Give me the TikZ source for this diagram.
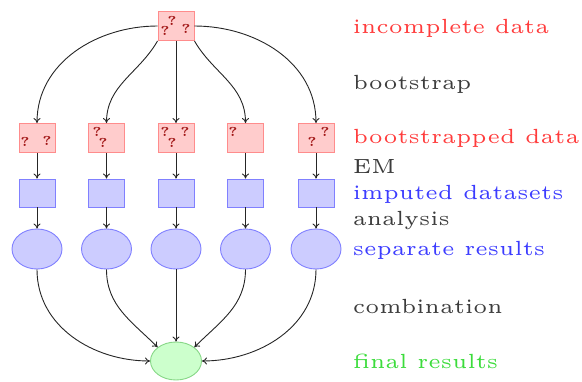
\documentclass[tikz,border=0pt]{standalone}
\usetikzlibrary{arrows.meta,shapes.geometric}
\definecolor{labred}{RGB}{255,60,60}
\definecolor{labblue}{RGB}{60,60,255}
\definecolor{labgreen}{RGB}{60,220,60}
\definecolor{labgray}{RGB}{60,60,60}
\definecolor{qmark}{RGB}{160,20,20}
\definecolor{finborder}{RGB}{135,215,135}
\tikzset{
  databox/.style={rectangle,draw=red!45,fill=red!20,line width=0.9pt,
    minimum width=36pt,minimum height=29pt,inner sep=0pt},
  impbox/.style={rectangle,draw=blue!50,fill=blue!20,line width=0.9pt,
    minimum width=36pt,minimum height=28pt,inner sep=0pt},
  resell/.style={ellipse,draw=blue!50,fill=blue!20,line width=0.9pt,
    minimum width=50pt,minimum height=40pt,inner sep=0pt},
  finell/.style={ellipse,draw=finborder,fill=green!20,line width=0.9pt,
    minimum width=51pt,minimum height=38pt,inner sep=0pt},
  qm/.style={text=qmark,inner sep=0pt,scale=2.6,font=\fontsize{5}{6}\selectfont\bfseries},
  lab/.style={anchor=base west,inner sep=0pt,scale=4.1,font=\fontsize{5}{6}\selectfont},
  flow/.style={draw=black!85,line width=0.9pt,-{To[length=5pt,width=7pt]}},
}
\begin{document}
\begin{tikzpicture}[x=1pt,y=-1pt]
\useasboundingbox (0,0) rectangle (582,381);
% incomplete data
\node[databox] (top) at (176,26) {};
\node[qm] (q0a) at (172,21) {?};
\node[qm] (q0b) at (165,31) {?};
\node[qm] (q0c) at (186,29) {?};
% bootstrapped data, imputed datasets, separate results
\foreach \i/\x in {1/37,2/106.5,3/176,4/245.5,5/316}{
  \node[databox] (b\i) at (\x,138) {};
  \node[impbox] (m\i) at (\x,193) {};
  \node[resell] (r\i) at (\x,249) {};
}
\node[qm] (q1a) at (25,142) {?};
\node[qm] (q1b) at (47,141) {?};
\node[qm] (q2a) at (97,132) {?};
\node[qm] (q2b) at (103,143) {?};
\node[qm] (q3a) at (165,132) {?};
\node[qm] (q3b) at (185,132) {?};
\node[qm] (q3c) at (172,143) {?};
\node[qm] (q4a) at (233,132) {?};
\node[qm] (q5a) at (325,132) {?};
\node[qm] (q5b) at (312,142) {?};
% final result
\node[finell] (fin) at (176,361) {};
% bootstrap
\draw[flow] (top.west) to[out=180,in=90] (b1.north);
\draw[flow] (top.south west) to[out=240,in=90] (b2.north);
\draw[flow] (top.south) -- (b3.north);
\draw[flow] (top.south east) to[out=-60,in=90] (b4.north);
\draw[flow] (top.east) to[out=0,in=90] (b5.north);
% EM and analysis
\foreach \i in {1,...,5}{
  \draw[flow] (b\i.south) -- (m\i.north);
  \draw[flow] (m\i.south) -- (r\i.north);
}
% combination
\draw[flow] (r1.south) to[out=-90,in=180] (fin.west);
\draw[flow] (r2.south) to[out=-90,in=135] (fin.north west);
\draw[flow] (r3.south) -- (fin.north);
\draw[flow] (r4.south) to[out=-90,in=45] (fin.north east);
\draw[flow] (r5.south) to[out=-90,in=0] (fin.east);
% labels
\node[lab,text=labred] (l1) at (352,33) {incomplete data};
\node[lab,text=labgray] (l2) at (352,89) {bootstrap};
\node[lab,text=labred] (l3) at (352,143) {bootstrapped data};
\node[lab,text=labgray] (l4) at (352,173) {EM};
\node[lab,text=labblue] (l5) at (352,199) {imputed datasets};
\node[lab,text=labgray] (l6) at (352,225) {analysis};
\node[lab,text=labblue] (l7) at (352,255) {separate results};
\node[lab,text=labgray] (l8) at (352,313) {combination};
\node[lab,text=labgreen] (l9) at (352,368) {final results};
\end{tikzpicture}
\end{document}
